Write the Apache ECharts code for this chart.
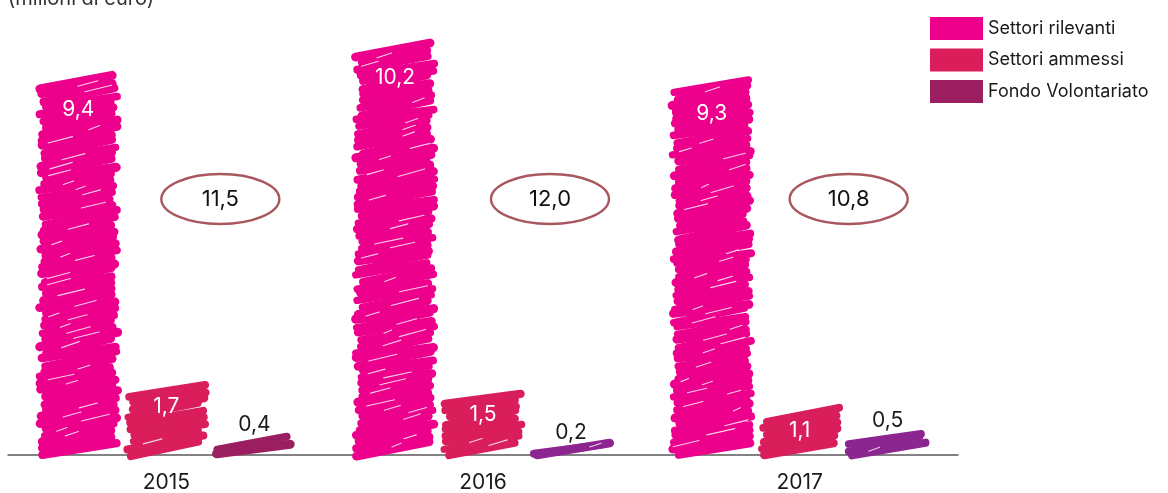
<!DOCTYPE html>
<html>
<head>
<meta charset="utf-8">
<script src="https://cdn.jsdelivr.net/npm/echarts@6/dist/echarts.min.js"></script>
<style>
  html, body { margin: 0; padding: 0; background: #fff; }
  #chart { width: 1168px; height: 493px; }
</style>
</head>
<body>
<div id="chart"></div>
<script>
// Erogazioni per anno (milioni di euro)
const years = ['2015', '2016', '2017'];
const settoriRilevanti = [9.4, 10.2, 9.3];
const settoriAmmessi = [1.7, 1.5, 1.1];
const fondoVolontariato = [0.4, 0.2, 0.5];
const totali = [11.5, 12.0, 10.8];

const seriesNames = ['Settori rilevanti', 'Settori ammessi', 'Fondo Volontariato'];
const seriesColors = ['#ec008c', '#d91e5b', '#9b1f60'];
// per-year tint of the smallest bar
const fondoColors = ['#9b1f60', '#8c2590', '#8c2590'];

const FONT = 'Inter, "Noto Sans", sans-serif';
const BAR_W = 85;
const BAR_STEP = 88;
// horizontal shift of each total badge from its year centre, and its row
const RING_SHIFT = [54, 67, 49];
const RING_Y = 199;

const fmt = v => v.toFixed(1).replace('.', ',');

// deterministic wobble for the hand-drawn strokes
function wobble(a, b, c) {
  const s = Math.sin(a * 127.1 + b * 311.7 + c * 74.7) * 43758.5453;
  return s - Math.floor(s);
}

// pencil-scribble fill for one bar; the band around keepClearY gets no slits
function scribble(x0, x1, yTop, yBase, color, seed, keepClearY) {
  const out = [];
  const h = Math.max(yBase - yTop, 2);
  const w = x1 - x0;
  const step = 6.4;
  const lo = yBase - 6;          // centre of the lowest stroke
  const hi = yTop + 4;           // centre of the highest stroke
  const span = Math.max(lo - hi, 0);
  const n = Math.max(1, Math.round(span / step));
  const strokes = [];
  for (let i = 0; i <= n; i++) {
    const yc = h < 10 ? yBase - h / 2 - 2 : lo - span * i / n;
    const rise = (h < 10 ? 7 : 9) + wobble(seed, i, 6) * 6;
    const jl = wobble(seed, i, 1) * 8;
    const jr = wobble(seed, i, 2) * 8;
    const s = {
      xa: x0 + 3 + jl, ya: yc + rise / 2,
      xb: x1 - 3 - jr, yb: yc - rise / 2, yc
    };
    strokes.push(s);
    out.push({
      type: 'line',
      shape: { x1: s.xa, y1: s.ya, x2: s.xb, y2: s.yb },
      style: { stroke: color, lineWidth: 7 + wobble(seed, i, 7) * 2.2, lineCap: 'round' }
    });
  }
  // a few thin white slits where the pencil strokes leave paper showing
  for (let i = 0; i < strokes.length - 1; i++) {
    if (wobble(seed, i, 3) < 0.45) continue;
    const sA = strokes[i], sB = strokes[i + 1];
    if (keepClearY != null && Math.abs((sA.yc + sB.yc) / 2 - keepClearY) < 15) continue;
    const len = 8 + wobble(seed, i, 5) * 26;
    const t0 = wobble(seed, i, 4) * (1 - len / w);
    const t1 = t0 + len / w;
    const lerp = (t, s) => [s.xa + (s.xb - s.xa) * t, s.ya + (s.yb - s.ya) * t];
    const p0a = lerp(t0, sA), p0b = lerp(t0, sB);
    const p1a = lerp(t1, sA), p1b = lerp(t1, sB);
    out.push({
      type: 'line',
      shape: {
        x1: p0a[0], y1: (p0a[1] + p0b[1]) / 2 + 1,
        x2: p1a[0], y2: (p1a[1] + p1b[1]) / 2 - 1
      },
      style: { stroke: '#ffffff', lineWidth: 1.1, opacity: 0.8, lineCap: 'round' }
    });
  }
  return out;
}

function barRenderer(sIdx) {
  return function (params, api) {
    const cat = api.value(0);
    const val = api.value(1);
    const base = api.coord([cat, 0]);
    const top = api.coord([cat, val]);
    const cx = base[0] + (sIdx - 1) * BAR_STEP;
    const x0 = cx - BAR_W / 2;
    const x1 = cx + BAR_W / 2;
    const color = sIdx === 2 ? fondoColors[params.dataIndex] : seriesColors[sIdx];
    const tall = val > 1;
    let labelY;
    if (sIdx === 0) labelY = top[1] + 32;
    else if (sIdx === 1) labelY = top[1] + 20;
    else labelY = top[1] - 14;
    const children = scribble(x0, x1, top[1], base[1], color,
      sIdx * 10 + params.dataIndex + 1, tall ? labelY : null);
    children.push({
      type: 'text',
      z2: 10,
      style: {
        text: fmt(val),
        x: cx,
        y: labelY,
        align: 'center',
        verticalAlign: 'middle',
        fill: tall ? '#ffffff' : '#1a1a1a',
        font: '400 21px ' + FONT
      }
    });
    return { type: 'group', children };
  };
}

function ringRenderer(params, api) {
  const cat = api.value(0);
  const val = api.value(1);
  const c = api.coord([cat, 0]);
  const cx = c[0] + RING_SHIFT[params.dataIndex];
  const rx = 59, ry = 25;
  const d = `M ${cx - rx} ${RING_Y} A ${rx} ${ry} 0 1 0 ${cx + rx} ${RING_Y} A ${rx} ${ry} 0 1 0 ${cx - rx} ${RING_Y} Z`;
  return {
    type: 'group',
    children: [
      {
        type: 'path',
        shape: { pathData: d, x: cx - rx, y: RING_Y - ry, width: rx * 2, height: ry * 2, layout: 'cover' },
        style: { fill: 'none', stroke: '#a9575f', lineWidth: 2.4 }
      },
      {
        type: 'text',
        style: {
          text: fmt(val),
          x: cx,
          y: RING_Y,
          align: 'center',
          verticalAlign: 'middle',
          fill: '#111111',
          font: '400 22px ' + FONT
        }
      }
    ]
  };
}

const valueSets = [settoriRilevanti, settoriAmmessi, fondoVolontariato];

const chart = echarts.init(document.getElementById('chart'), null, { renderer: 'canvas' });
chart.setOption({
  backgroundColor: '#ffffff',
  animation: false,
  textStyle: { fontFamily: FONT },
  grid: { left: 8, right: 210, top: 14, bottom: 38 },
  legend: {
    orient: 'vertical',
    left: 925,
    top: 12,
    icon: 'rect',
    itemWidth: 53,
    itemHeight: 23,
    itemGap: 8.5,
    selectedMode: false,
    textStyle: { fontSize: 18, color: '#1a1a1a', fontFamily: FONT },
    data: seriesNames
  },
  graphic: [{
    type: 'text',
    left: 8,
    top: -11,
    style: { text: '(milioni di euro)', font: '400 20px ' + FONT, fill: '#333333' }
  }],
  xAxis: {
    type: 'category',
    data: years,
    axisLine: { lineStyle: { color: '#5a5a5a', width: 1.5 } },
    axisTick: { show: false },
    axisLabel: { fontSize: 21, color: '#1a1a1a', margin: 17, fontFamily: FONT }
  },
  yAxis: {
    type: 'value',
    min: 0,
    max: 11,
    show: false
  },
  series: valueSets.map((vals, s) => ({
    name: seriesNames[s],
    type: 'custom',
    itemStyle: { color: seriesColors[s] },
    renderItem: barRenderer(s),
    encode: { x: 0, y: 1 },
    data: vals.map((v, i) => [i, v]),
    z: 2
  })).concat([{
    name: 'Totale',
    type: 'custom',
    renderItem: ringRenderer,
    encode: { x: 0, y: 1 },
    data: totali.map((v, i) => [i, v]),
    z: 3
  }])
});
</script>
</body>
</html>
